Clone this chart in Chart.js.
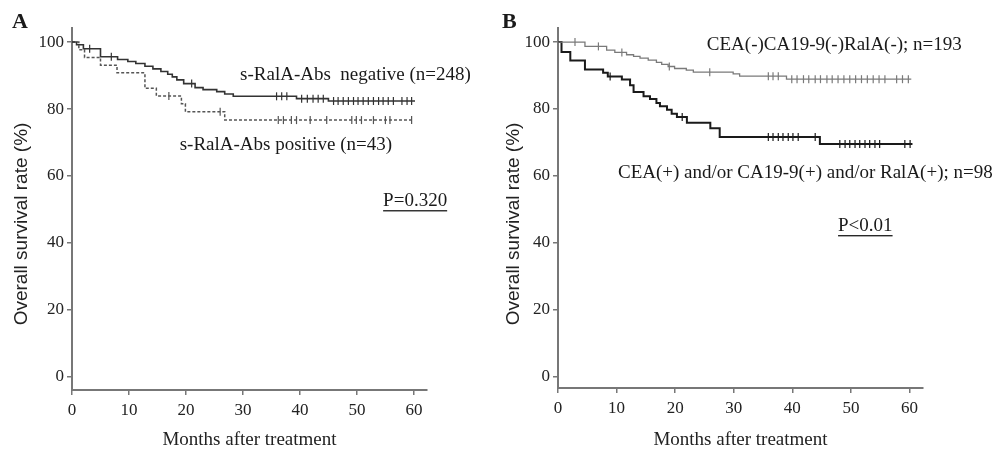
<!DOCTYPE html>
<html>
<head>
<meta charset="utf-8">
<script src="https://cdn.jsdelivr.net/npm/chart.js@4.4.1/dist/chart.umd.min.js"></script>
<style>
html, body { margin: 0; padding: 0; background: #fff; }
body { width: 998px; height: 450px; position: relative; overflow: hidden; }
.panel { position: absolute; top: 0; height: 450px; }
#panelA { left: 0; width: 490px; }
#panelB { left: 490px; width: 508px; }
</style>
</head>
<body>
<div class="panel" id="panelA"><canvas id="chartA"></canvas></div>
<div class="panel" id="panelB"><canvas id="chartB"></canvas></div>
<script>
var xTicks = [0, 10, 20, 30, 40, 50, 60];
var yTicks = [0, 20, 40, 60, 80, 100];

// A: s-RalA-Abs negative (solid)
var negTime = [0, 0.8, 2.0, 5.0, 8.0, 9.8, 11.2, 12.8, 14.2, 15.6, 16.8, 17.6, 18.4, 19.6, 21.6, 23.0, 25.4, 26.8, 28.3, 39.4, 45.0, 60.2];
var negSurv = [100, 99.2, 98.0, 95.6, 94.8, 94.2, 93.6, 92.8, 92.0, 91.2, 90.4, 89.6, 88.7, 87.6, 86.4, 85.8, 85.2, 84.5, 83.8, 83.1, 82.4, 82.4];
var negCens = [3.1, 6.9, 21.0, 35.9, 36.8, 37.7, 40.3, 41.3, 42.3, 43.2, 44.1, 45.9, 46.7, 47.6, 48.5, 49.4, 50.2, 51.1, 52.0, 52.9, 53.8, 54.6, 55.5, 56.4, 57.9, 58.8, 59.6];

// A: s-RalA-Abs positive (dashed)
var posTime = [0, 1.2, 2.2, 5.0, 7.9, 12.8, 14.8, 19.2, 19.9, 26.8, 60.0];
var posSurv = [100, 97.7, 95.4, 93.1, 90.8, 86.2, 83.9, 81.6, 79.2, 76.7, 76.7];
var posCens = [17.0, 26.0, 36.2, 37.1, 38.5, 39.4, 41.8, 44.7, 49.1, 49.9, 50.8, 52.9, 55.0, 55.8, 59.6];

// B: CEA(-)CA19-9(-)RalA(-) (thin grey)
var allNegTime = [0, 4.6, 8.3, 9.7, 11.7, 12.9, 14.0, 15.4, 16.8, 17.7, 18.8, 19.9, 21.9, 23.1, 29.9, 31.0, 39.0, 60.3];
var allNegSurv = [100, 98.7, 97.6, 96.9, 96.2, 95.7, 95.2, 94.6, 93.9, 93.3, 92.7, 92.1, 91.6, 91.0, 90.5, 89.8, 88.9, 88.9];
var allNegCens = [2.9, 6.9, 10.9, 19.0, 25.9, 35.9, 36.7, 37.6, 39.9, 40.8, 41.9, 42.8, 43.9, 44.8, 45.9, 46.8, 47.8, 48.8, 49.8, 50.8, 51.8, 52.8, 53.8, 54.8, 55.8, 57.8, 58.8, 59.8];

// B: CEA(+) and/or CA19-9(+) and/or RalA(+) (thick black)
var anyPosTime = [0, 0.6, 2.1, 4.6, 7.7, 8.5, 10.9, 12.3, 12.9, 14.6, 15.7, 16.8, 17.4, 18.6, 19.4, 20.3, 22.0, 26.0, 27.6, 44.7, 60.5];
var anyPosSurv = [100, 97.0, 94.5, 91.8, 90.8, 89.7, 88.8, 87.1, 85.1, 83.8, 83.0, 81.8, 80.8, 79.8, 78.6, 77.6, 75.9, 74.2, 71.6, 69.5, 69.5];
var anyPosCens = [8.9, 21.2, 35.9, 36.7, 37.6, 38.4, 39.3, 40.1, 41.0, 43.9, 48.1, 49.0, 49.8, 50.7, 51.5, 52.4, 53.2, 54.1, 54.9, 59.2, 60.1];

function kmPoints(times, surv) {
    return times.map(function (t, i) { return { x: t, y: surv[i] }; });
}
// valor de la curva escalonada en el tiempo t
function kmAt(times, surv, t) {
    var v = surv[0];
    for (var i = 0; i < times.length; i++) { if (times[i] <= t) v = surv[i]; }
    return v;
}
function censPoints(times, surv, cens) {
    return cens.map(function (c) { return { x: c, y: kmAt(times, surv, c) }; });
}

//textos sobre el grafico
var notesPlugin = {
    id: 'notes',
    afterDraw: function (chart, args, opts) {
        var ctx = chart.ctx, xs = chart.scales.x, ys = chart.scales.y;
        ctx.save();
        ctx.fillStyle = '#1a1a1a';
        ctx.textBaseline = 'middle';
        (opts.items || []).forEach(function (n) {
            ctx.font = '19px "Liberation Serif"';
            ctx.textAlign = n.align || 'left';
            var px = xs.getPixelForValue(n.x), py = ys.getPixelForValue(n.y);
            ctx.fillText(n.text, px, py);
            if (n.underline) {
                var w = ctx.measureText(n.text).width;
                var x0 = n.align === 'right' ? px - w : px;
                ctx.fillRect(x0, py + 9, w, 1.3);
            }
        });
        // titulo del eje y
        ctx.save();
        ctx.fillStyle = '#222';
        ctx.font = '19px "Liberation Sans"';
        ctx.textAlign = 'center';
        ctx.translate(opts.yTitleX, opts.yTitleY);
        ctx.rotate(-Math.PI / 2);
        ctx.fillText('Overall survival rate (%)', 0, 0);
        ctx.restore();
        if (opts.letter) {
            ctx.font = 'bold 22px "Liberation Serif"';
            ctx.textAlign = 'left';
            ctx.fillText(opts.letter, opts.letterX, 22);
        }
        ctx.restore();
    }
};

function makeOptions(cfg) {
    return {
        responsive: true,
        maintainAspectRatio: false,
        animation: false,
        layout: { padding: { top: 28, right: cfg.padRight, left: 0, bottom: 0 } },
        plugins: {
            legend: { display: false },
            tooltip: { enabled: false },
            notes: { items: cfg.notes, letter: cfg.letter, letterX: cfg.letterX, yTitleX: cfg.yTitleX, yTitleY: 224 }
        },
        scales: {
            x: {
                type: 'linear', min: 0, max: 62.3,
                afterBuildTicks: function (s) { s.ticks = xTicks.map(function (v) { return { value: v }; }); },
                afterFit: function (s) { s.height = cfg.xHeight; },
                grid: { drawOnChartArea: false, drawTicks: true, tickLength: 5, color: '#777', lineWidth: 1.5 },
                border: { display: true, color: '#777', width: 2 },
                ticks: { color: '#222', padding: 5, maxRotation: 0, font: { family: 'Liberation Serif', size: 17 } },
                title: { display: true, text: 'Months after treatment', color: '#222', padding: 0, font: { family: 'Liberation Serif', size: 19, lineHeight: 1 } }
            },
            y: {
                type: 'linear', min: cfg.yMin, max: 104.2,
                afterBuildTicks: function (s) { s.ticks = yTicks.map(function (v) { return { value: v }; }); },
                afterFit: function (s) { s.width = cfg.yWidth; },
                grid: { drawOnChartArea: false, drawTicks: true, tickLength: 5, color: '#777', lineWidth: 1.5 },
                border: { display: true, color: '#777', width: 2 },
                ticks: { color: '#222', padding: 3, font: { family: 'Liberation Serif', size: 17 } },
                title: { display: false }
            }
        }
    };
}

function stepSet(times, surv, color, width, dash) {
    return { type: 'line', data: kmPoints(times, surv), stepped: true, borderColor: color, borderWidth: width, borderDash: dash || [], pointRadius: 0, fill: false };
}
function censSet(times, surv, cens, color) {
    return { type: 'scatter', data: censPoints(times, surv, cens), pointStyle: 'line', rotation: 90, pointRadius: 4, borderColor: color, borderWidth: 1.2, showLine: false };
}

new Chart(document.getElementById('chartA').getContext('2d'), {
    type: 'line',
    data: {
        datasets: [
            stepSet(negTime, negSurv, '#333', 1.6),
            censSet(negTime, negSurv, negCens, '#333'),
            stepSet(posTime, posSurv, '#555', 1.5, [3, 2]),
            censSet(posTime, posSurv, posCens, '#555')
        ]
    },
    options: makeOptions({
        padRight: 63, yWidth: 72, xHeight: 60, yMin: -3.9, letter: 'A', letterX: 12, yTitleX: 22,
        notes: [
            { text: 's-RalA-Abs  negative (n=248)', x: 29.5, y: 90.1 },
            { text: 's-RalA-Abs positive (n=43)', x: 18.9, y: 69.3 },
            { text: 'P=0.320', x: 54.6, y: 52.5, underline: true }
        ]
    }),
    plugins: [notesPlugin]
});

new Chart(document.getElementById('chartB').getContext('2d'), {
    type: 'line',
    data: {
        datasets: [
            stepSet(allNegTime, allNegSurv, '#7a7a7a', 1.3),
            censSet(allNegTime, allNegSurv, allNegCens, '#7a7a7a'),
            stepSet(anyPosTime, anyPosSurv, '#1a1a1a', 2),
            censSet(anyPosTime, anyPosSurv, anyPosCens, '#1a1a1a')
        ]
    },
    options: makeOptions({
        padRight: 75, yWidth: 68, xHeight: 62, yMin: -3.4, letter: 'B', letterX: 12, yTitleX: 24,
        notes: [
            { text: 'CEA(-)CA19-9(-)RalA(-); n=193', x: 25.4, y: 99.0 },
            { text: 'CEA(+) and/or CA19-9(+) and/or RalA(+); n=98', x: 74.2, y: 60.8, align: 'right' },
            { text: 'P<0.01', x: 47.8, y: 45.0, underline: true }
        ]
    }),
    plugins: [notesPlugin]
});
</script>
</body>
</html>
